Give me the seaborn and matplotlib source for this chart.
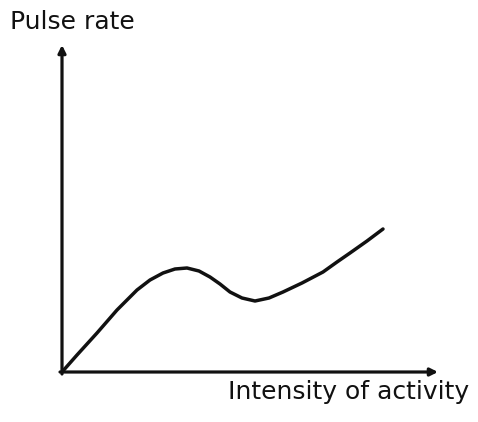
import numpy as np
import pandas as pd
import matplotlib
matplotlib.use("Agg")
import matplotlib.pyplot as plt
import seaborn as sns

# values (arbitrary units)
intensity = [0, 15, 35, 55, 75, 88, 101, 113, 125, 137, 148, 158, 168, 180, 193,
             207, 221, 240, 261, 275, 288, 305, 321]
pulse = [0, 17, 39, 62, 82, 92, 99, 103, 104, 101, 95, 88, 80, 74, 71,
         74, 80, 89, 100, 110, 119, 131, 143]

x_label = "Intensity of activity"
y_label = "Pulse rate"

df = pd.DataFrame({"intensity": intensity, "pulse": pulse})

sns.set_style("white")
fig = plt.figure(figsize=(4.78, 4.22), dpi=100)
ax = fig.add_axes([0, 0, 1, 1])

sns.lineplot(data=df, x="intensity", y="pulse", ax=ax, color="#111111",
             linewidth=2.5, sort=False)

# hand-drawn style axes with arrow heads
ax.annotate("", xy=(376, 0), xytext=(-2, 0),
            arrowprops=dict(arrowstyle="-|>", color="#111111", lw=2.3,
                            mutation_scale=11, shrinkA=0, shrinkB=0))
ax.annotate("", xy=(0, 327), xytext=(0, -2),
            arrowprops=dict(arrowstyle="-|>", color="#111111", lw=2.3,
                            mutation_scale=11, shrinkA=0, shrinkB=0))

ax.text(-52, 350, y_label, fontsize=18, ha="left", va="center", color="#111111")
ax.text(166, -20, x_label, fontsize=18, ha="left", va="center", color="#111111")

ax.set_xlim(-62, 416)
ax.set_ylim(-50, 372)
ax.set_axis_off()

fig.savefig("out.png", dpi=100, facecolor="white")
